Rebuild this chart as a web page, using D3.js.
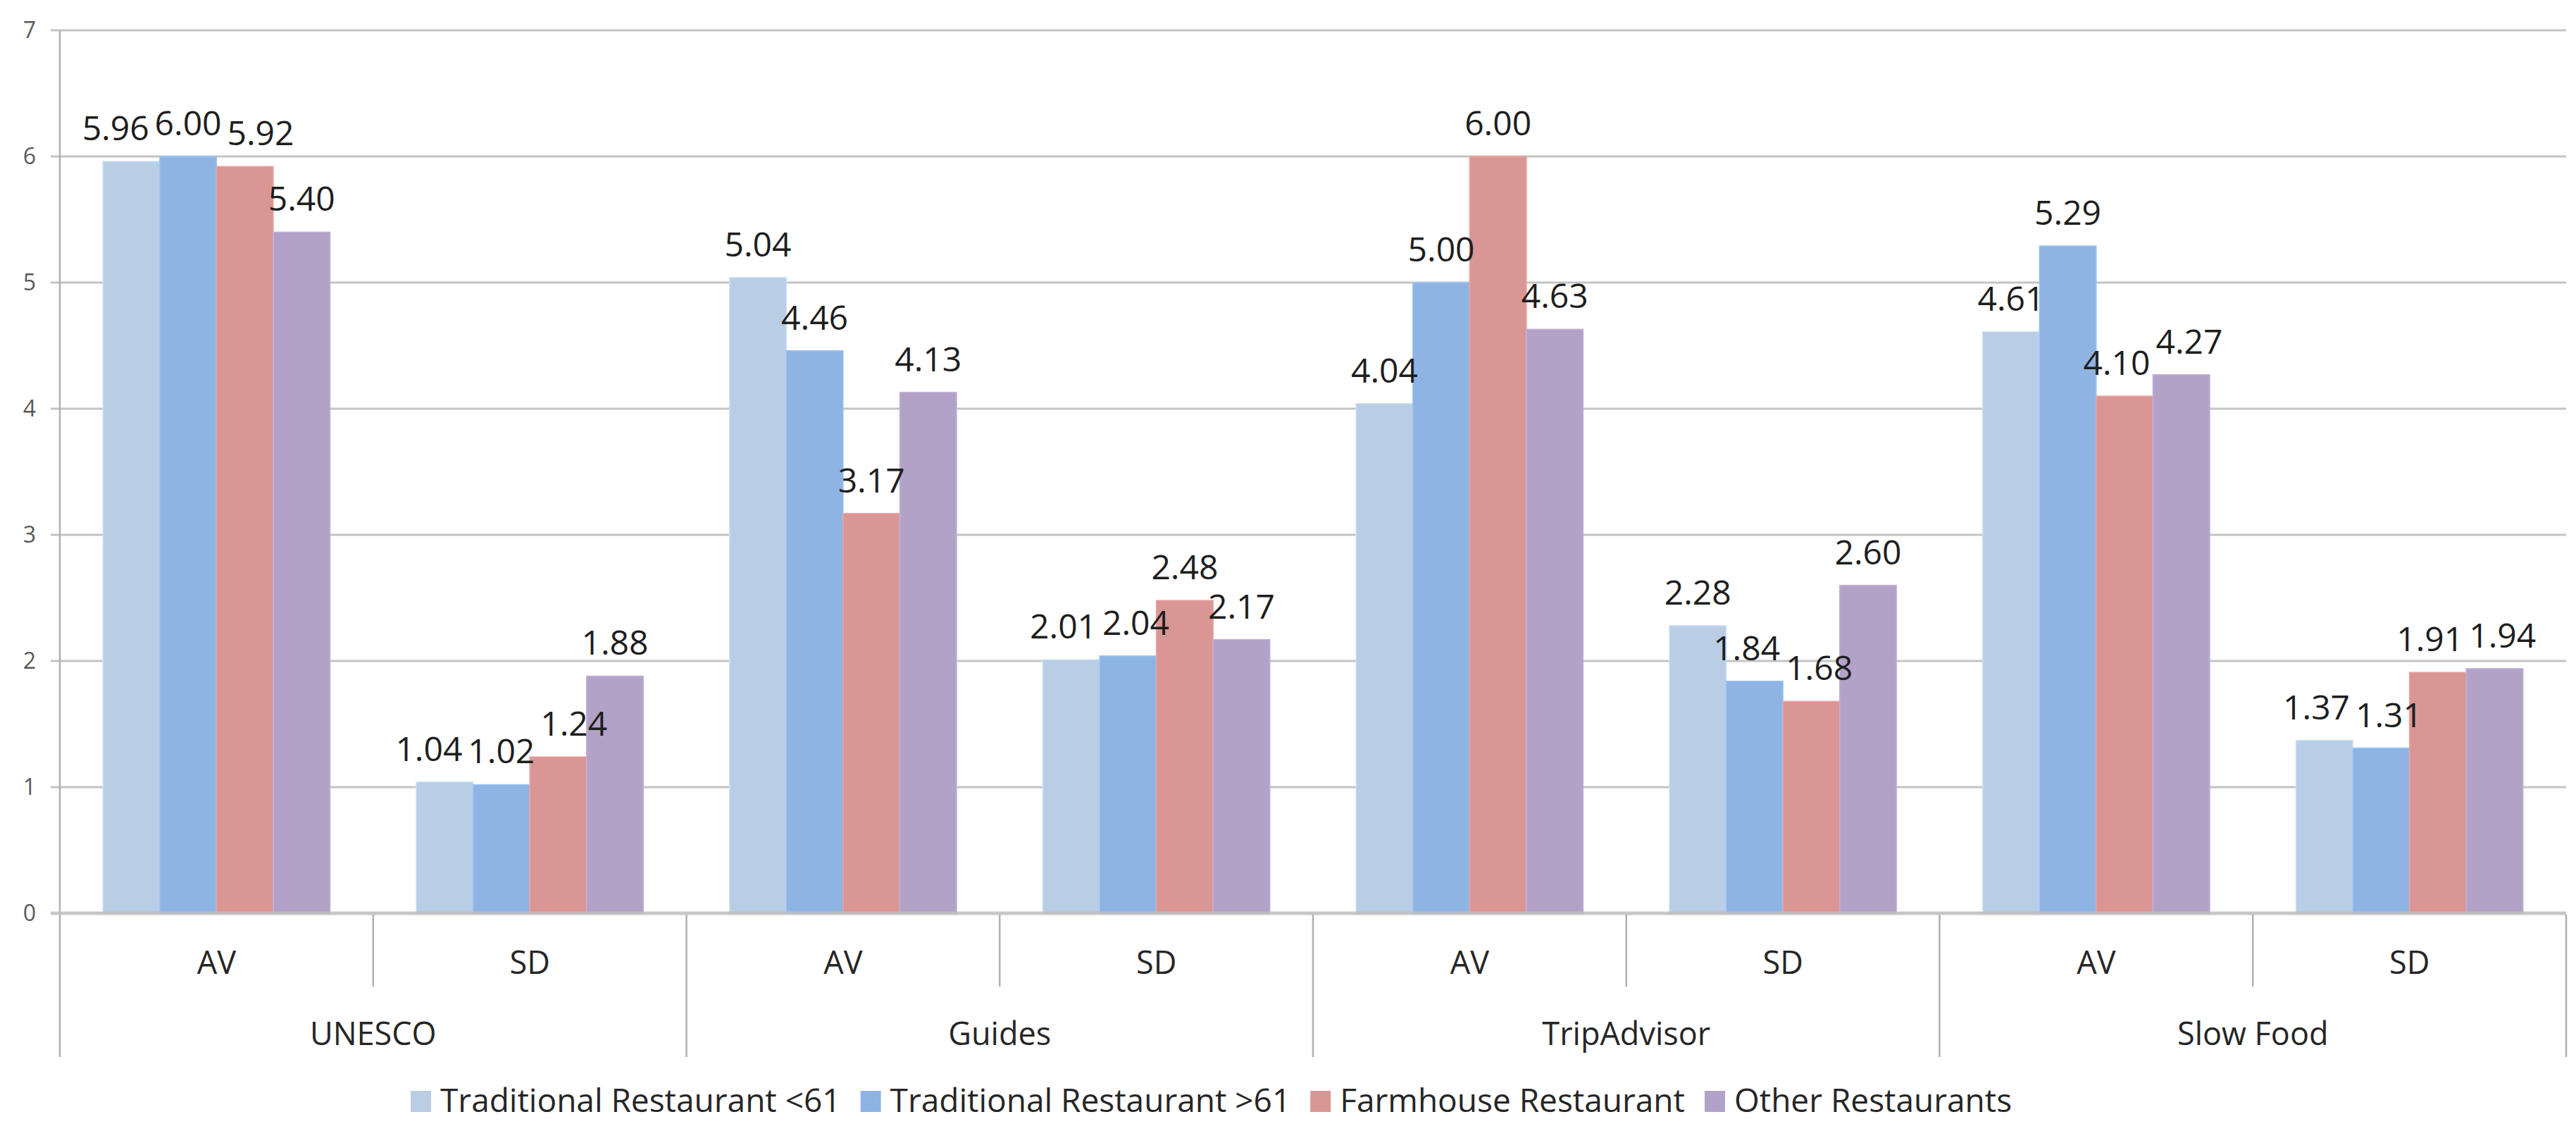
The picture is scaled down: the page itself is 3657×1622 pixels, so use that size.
<!DOCTYPE html>
<html>
<head>
<meta charset="utf-8">
<script src="https://cdn.jsdelivr.net/npm/d3@7"></script>
<style>
  html, body { margin: 0; padding: 0; background: #ffffff; }
  svg { display: block; }
  text { font-family: "Open Sans", "Noto Sans", sans-serif; }
</style>
</head>
<body>
<svg id="chart" width="3657" height="1622"></svg>
<script>
// ---- data ----
const groups = ["UNESCO", "Guides", "TripAdvisor", "Slow Food"];
const stats = ["AV", "SD"];
const seriesNames = [
  "Traditional Restaurant <61",
  "Traditional Restaurant >61",
  "Farmhouse Restaurant",
  "Other Restaurants"
];
const tradUnder61 = [5.96, 1.04, 5.04, 2.01, 4.04, 2.28, 4.61, 1.37];
const tradOver61  = [6.00, 1.02, 4.46, 2.04, 5.00, 1.84, 5.29, 1.31];
const farmhouse   = [5.92, 1.24, 3.17, 2.48, 6.00, 1.68, 4.10, 1.91];
const others      = [5.40, 1.88, 4.13, 2.17, 4.63, 2.60, 4.27, 1.94];
const yTicks = [0, 1, 2, 3, 4, 5, 6, 7];

(function () {
const seriesValues = [tradUnder61, tradOver61, farmhouse, others];
const colors = ["#B9CDE5", "#8EB4E3", "#D99694", "#B3A2C7"];

// ---- layout ----
const svg = d3.select("#chart");
const pLeft = 85, pRight = 3643, pTop = 43, pBottom = 1296;

const leaves = [];
groups.forEach(g => stats.forEach(s => leaves.push(g + "|" + s)));

const x0 = d3.scaleBand().domain(leaves).range([pLeft, pRight]).paddingInner(0).paddingOuter(0);
const x1 = d3.scaleBand().domain(d3.range(seriesNames.length)).range([0, x0.bandwidth()])
  .paddingInner(0).paddingOuter(0.76);
const y = d3.scaleLinear().domain([0, 7]).range([pBottom, pTop]);

// gridlines
svg.append("g").selectAll("line").data(yTicks.filter(t => t > 0)).join("line")
  .attr("x1", pLeft - 13).attr("x2", pRight)
  .attr("y1", d => y(d)).attr("y2", d => y(d))
  .attr("stroke", "#C4C4C4").attr("stroke-width", 3);

// y axis
const yAxis = d3.axisLeft(y).tickValues(yTicks).tickSize(0).tickPadding(0).tickFormat(d3.format("d"));
const yg = svg.append("g").attr("transform", `translate(${pLeft - 34},0)`).call(yAxis);
yg.select(".domain").remove();
yg.selectAll("text").attr("font-size", 32).attr("fill", "#595959")
  .attr("font-family", "'Open Sans', sans-serif");

// vertical axis line
svg.append("line").attr("x1", pLeft).attr("x2", pLeft).attr("y1", pTop).attr("y2", 1500)
  .attr("stroke", "#B0B0B0").attr("stroke-width", 2.5);

// bars
const rows = [];
leaves.forEach((leaf, i) => {
  seriesValues.forEach((vals, s) => rows.push({ leaf, s, v: vals[i] }));
});

svg.append("g").selectAll("rect").data(rows).join("rect")
  .attr("x", d => x0(d.leaf) + x1(d.s))
  .attr("width", x1.bandwidth())
  .attr("y", d => y(d.v))
  .attr("height", d => y(0) - y(d.v))
  .attr("fill", d => colors[d.s])
  .attr("stroke", d => d3.color(colors[d.s]).brighter(0.25))
  .attr("stroke-width", 1.5);

// baseline
svg.append("line").attr("x1", pLeft - 13).attr("x2", pRight).attr("y1", y(0)).attr("y2", y(0))
  .attr("stroke", "#BDBDBD").attr("stroke-opacity", 0.85).attr("stroke-width", 5);

// category separators
leaves.forEach((leaf, i) => {
  if (i === 0) return;
  const xx = x0(leaf);
  const isGroup = i % stats.length === 0;
  svg.append("line").attr("x1", xx).attr("x2", xx).attr("y1", y(0) + 2)
    .attr("y2", isGroup ? 1500 : 1400)
    .attr("stroke", "#B0B0B0").attr("stroke-width", 2.5);
});
svg.append("line").attr("x1", pRight).attr("x2", pRight).attr("y1", y(0) + 2).attr("y2", 1500)
  .attr("stroke", "#B0B0B0").attr("stroke-width", 2.5);

// stat labels
svg.append("g").selectAll("text").data(leaves).join("text")
  .attr("x", d => x0(d) + x0.bandwidth() / 2)
  .attr("y", 1382)
  .attr("text-anchor", "middle").attr("font-size", 45).attr("fill", "#262626")
  .text(d => d.split("|")[1]);

// group labels
const groupScale = d3.scaleBand().domain(groups).range([pLeft, pRight]);
svg.append("g").selectAll("text").data(groups).join("text")
  .attr("x", d => groupScale(d) + groupScale.bandwidth() / 2)
  .attr("y", 1483)
  .attr("text-anchor", "middle").attr("font-size", 45).attr("fill", "#262626")
  .text(d => d);

// data labels with simple overlap resolution
const labels = svg.append("g").selectAll("text").data(rows).join("text")
  .attr("text-anchor", "middle").attr("font-size", 48).attr("fill", "#1E1E1E")
  .text(d => d3.format(".2f")(d.v));

labels.each(function (d) {
  d.lx = x0(d.leaf) + x1(d.s) + x1.bandwidth() / 2;
  d.ly = y(d.v) - 30;
  d.lw = this.getComputedTextLength();
});
const lh = 46;
leaves.forEach(leaf => {
  const grp = rows.filter(r => r.leaf === leaf).sort((a, b) => a.s - b.s);
  for (let iter = 0; iter < 80; iter++) {
    for (let i = 0; i < grp.length - 1; i++) {
      for (let j = i + 1; j < grp.length; j++) {
        const a = grp[i], b = grp[j];
        if (Math.abs(a.ly - b.ly) < lh) {
          const need = (a.lw + b.lw) / 2 + 8;
          const gap = b.lx - a.lx;
          if (gap < need) {
            const push = (need - gap) / 2;
            a.lx -= push; b.lx += push;
          }
        }
      }
    }
  }
});
labels.attr("x", d => d.lx).attr("y", d => d.ly);

// legend
const legend = svg.append("g");
let legX = 583;
const legY = 1578;
seriesNames.forEach((name, i) => {
  legend.append("rect").attr("x", legX).attr("y", legY - 30).attr("width", 29).attr("height", 30)
    .attr("fill", colors[i]);
  const t = legend.append("text").attr("x", legX + 42).attr("y", legY)
    .attr("font-size", 46).attr("fill", "#262626").text(name);
  legX += 42 + t.node().getComputedTextLength() + 28;
});
})();
</script>
</body>
</html>
